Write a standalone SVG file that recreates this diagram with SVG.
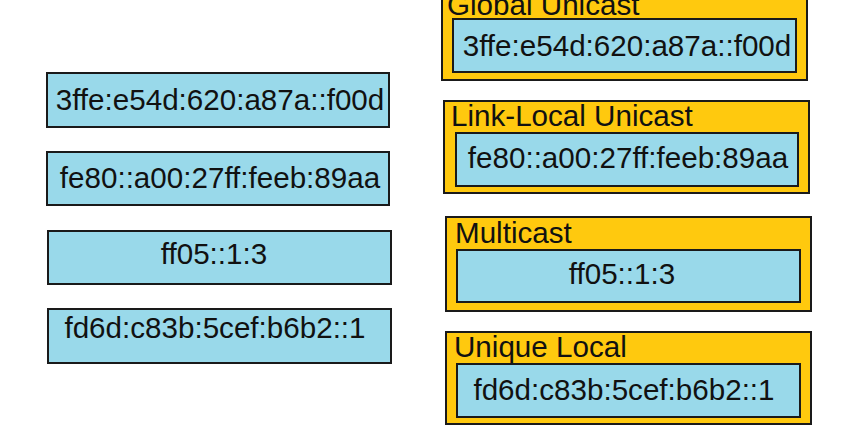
<svg xmlns="http://www.w3.org/2000/svg" width="866" height="438" viewBox="0 0 866 438">
<style>
.addr{fill:#99d9ea;stroke:#1a1a1a;stroke-width:2}
.grp{fill:#ffc90e;stroke:#1a1a1a;stroke-width:2}
text{font-family:"Liberation Sans",Arial,sans-serif;font-size:29.6px;fill:#111}
.c{text-anchor:middle}
</style>
<rect width="866" height="438" fill="#fff"/>
<g id="addr1"><rect class="addr" x="47" y="73" width="342" height="54"/><text class="c" x="220" y="110">3ffe:e54d:620:a87a::f00d</text></g>
<g id="addr2"><rect class="addr" x="47" y="152" width="342" height="53"/><text class="c" x="220" y="188">fe80::a00:27ff:feeb:89aa</text></g>
<g id="addr3"><rect class="addr" x="48" y="231" width="343" height="53"/><text class="c" x="214" y="264">ff05::1:3</text></g>
<g id="addr4"><rect class="addr" x="48" y="309" width="343" height="54"/><text class="c" x="215" y="338">fd6d:c83b:5cef:b6b2::1</text></g>
<g id="global">
<rect class="grp" x="442" y="-12" width="365" height="92"/>
<text x="447" y="15">Global Unicast</text>
<rect class="addr" x="453" y="19" width="343" height="53"/>
<text class="c" x="627" y="56">3ffe:e54d:620:a87a::f00d</text>
</g>
<g id="linklocal">
<rect class="grp" x="444" y="101" width="365" height="92"/>
<text x="451" y="126">Link-Local Unicast</text>
<rect class="addr" x="456" y="133" width="342" height="53"/>
<text class="c" x="628" y="168">fe80::a00:27ff:feeb:89aa</text>
</g>
<g id="multicast">
<rect class="grp" x="446" y="217" width="365" height="94"/>
<text x="455" y="243">Multicast</text>
<rect class="addr" x="457" y="250" width="343" height="52"/>
<text class="c" x="622" y="284">ff05::1:3</text>
</g>
<g id="uniquelocal">
<rect class="grp" x="446" y="332" width="365" height="92"/>
<text x="454" y="357">Unique Local</text>
<rect class="addr" x="457" y="364" width="343" height="53"/>
<text class="c" x="624" y="400">fd6d:c83b:5cef:b6b2::1</text>
</g>
<g id="connectors"></g>
</svg>
